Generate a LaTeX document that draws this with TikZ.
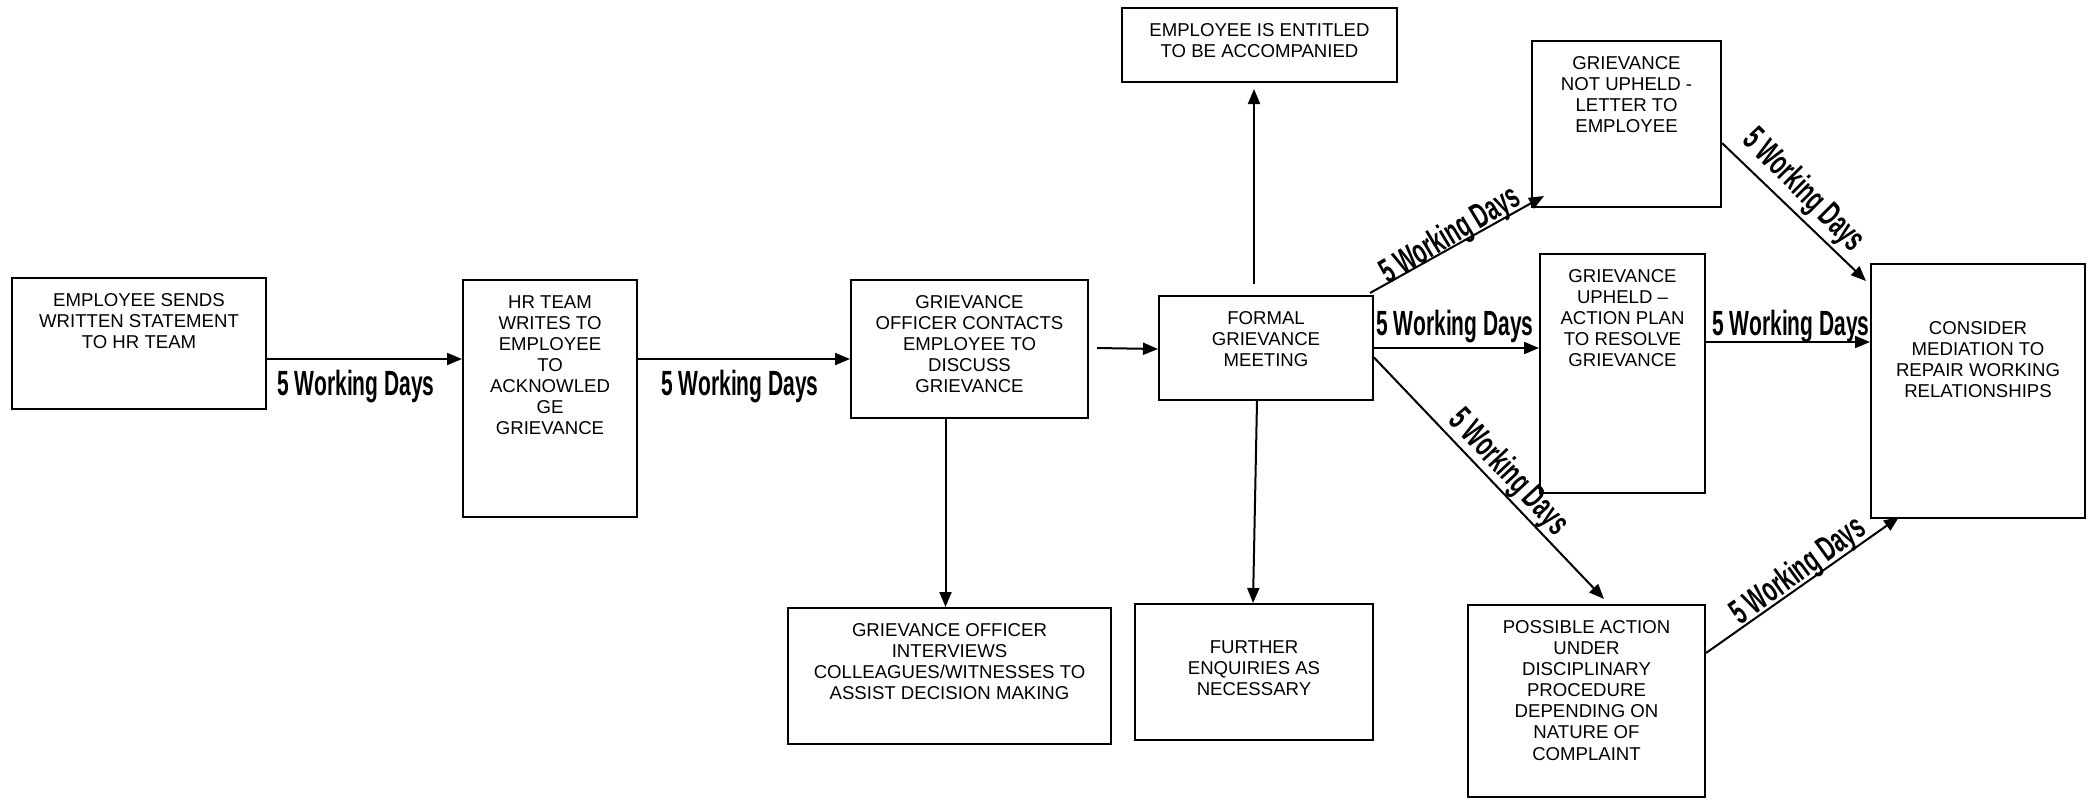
\documentclass[tikz,border=0pt]{standalone}
\usepackage{fontspec}
\usepackage{graphicx}
\setmainfont{Liberation Sans}
\usetikzlibrary{arrows.meta,fit}
\newcommand\fwdays{\scalebox{0.6}[1]{5 Working Days}}
\begin{document}
\begin{tikzpicture}[x=0.5pt,y=-0.5pt,
  box/.style={draw, line width=1pt, inner sep=0pt, rectangle},
  txt/.style={anchor=north, align=center, inner sep=0pt, font=\fontsize{9.3}{10.55}\selectfont},
  arr/.style={line width=1pt, -{Triangle[length=7.5pt,width=6pt]}},
  lab/.style={inner sep=0pt, font=\fontsize{17.5}{17.5}\selectfont\bfseries}]
\fill[white] (0,0) rectangle (2094,799);
\useasboundingbox (0,0) rectangle (2094,799);

% boxes
\node[box, fit={(12,278) (266,409)}] (b1) {};
\node[box, fit={(463,280) (637,517)}] (b2) {};
\node[box, fit={(851,280) (1088,418)}] (b3) {};
\node[box, fit={(788,608) (1111,744)}] (b4) {};
\node[box, fit={(1159,296) (1373,400)}] (b5) {};
\node[box, fit={(1122,8) (1397,82)}] (b6) {};
\node[box, fit={(1135,604) (1373,740)}] (b7) {};
\node[box, fit={(1532,41) (1721,207)}] (b8) {};
\node[box, fit={(1540,254) (1705,493)}] (b9) {};
\node[box, fit={(1468,605) (1705,797)}] (b10) {};
\node[box, fit={(1871,264) (2085,518)}] (b11) {};

% texts
\node[txt] (t1) at ([yshift=-8pt]b1.north) {EMPLOYEE SENDS\\WRITTEN STATEMENT\\TO HR TEAM};
\node[txt] (t2) at ([yshift=-8pt]b2.north) {HR TEAM\\WRITES TO\\EMPLOYEE\\TO\\ACKNOWLED\\GE\\GRIEVANCE};
\node[txt] (t3) at ([yshift=-8pt]b3.north) {GRIEVANCE\\OFFICER CONTACTS\\EMPLOYEE TO\\DISCUSS\\GRIEVANCE};
\node[txt] (t4) at ([yshift=-8pt]b4.north) {GRIEVANCE OFFICER\\INTERVIEWS\\COLLEAGUES/WITNESSES TO\\ASSIST DECISION MAKING};
\node[txt] (t5) at ([yshift=-8pt]b5.north) {FORMAL\\GRIEVANCE\\MEETING};
\node[txt] (t6) at ([yshift=-8pt]b6.north) {EMPLOYEE IS ENTITLED\\TO BE ACCOMPANIED};
\node[txt] (t7) at ([yshift=-18.55pt]b7.north) {FURTHER\\ENQUIRIES AS\\NECESSARY};
\node[txt] (t8) at ([yshift=-8pt]b8.north) {GRIEVANCE\\NOT UPHELD -\\LETTER TO\\EMPLOYEE};
\node[txt] (t9) at ([yshift=-8pt]b9.north) {GRIEVANCE\\UPHELD –\\ACTION PLAN\\TO RESOLVE\\GRIEVANCE};
\node[txt] (t10) at ([yshift=-8pt]b10.north) {POSSIBLE ACTION\\UNDER\\DISCIPLINARY\\PROCEDURE\\DEPENDING ON\\NATURE OF\\COMPLAINT};
\node[txt] (t11) at ([yshift=-29.1pt]b11.north) {CONSIDER\\MEDIATION TO\\REPAIR WORKING\\RELATIONSHIPS};

% connectors
\draw[arr] ([yshift=-7.75pt]b1.east) -- ([yshift=19.75pt]b2.west);
\draw[arr] ([yshift=19.75pt]b2.east) -- ([yshift=-5pt]b3.west);
\draw[arr] ([xshift=4pt,yshift=0.5pt]b3.east) -- ([yshift=-0.5pt]b5.west);
\draw[arr] ([xshift=-12pt]b3.south) -- ([xshift=-2pt]b4.north);
\draw[arr] ([xshift=-6pt,yshift=5.5pt]b5.north) -- ([xshift=-2.75pt,yshift=-3pt]b6.south);
\draw[arr] ([xshift=-4.5pt]b5.south) -- ([xshift=-0.5pt]b7.north);
\draw[arr] ([xshift=-2pt,yshift=1pt]b5.north east) -- ([xshift=6.5pt,yshift=6pt]b8.south west);
\draw[arr] (b5.east) -- ([yshift=12.75pt]b9.west);
\draw[arr] ([yshift=-4.75pt]b5.east) -- ([xshift=8.75pt,yshift=2.5pt]b10.north);
\draw[arr] ([yshift=-9.5pt]b8.east) -- ([xshift=-2pt,yshift=-9pt]b11.north west);
\draw[arr] ([yshift=15.75pt]b9.east) -- ([yshift=24.5pt]b11.west);
\draw[arr] ([yshift=24pt]b10.east) -- ([xshift=14.5pt,yshift=1pt]b11.south west);

% labels
\node[lab] (l1) at (356,387) {\fwdays};
\node[lab] (l2) at (740,387) {\fwdays};
\node[lab] (l3) at (1455,327) {\fwdays};
\node[lab] (l4) at (1791,327) {\fwdays};
\node[lab, rotate=31] (l5) at (1451,236) {\fwdays};
\node[lab, rotate=-47] (l6) at (1508,473) {\fwdays};
\node[lab, rotate=-45] (l7) at (1803,191) {\fwdays};
\node[lab, rotate=36] (l8) at (1799,572) {\fwdays};
\end{tikzpicture}
\end{document}
